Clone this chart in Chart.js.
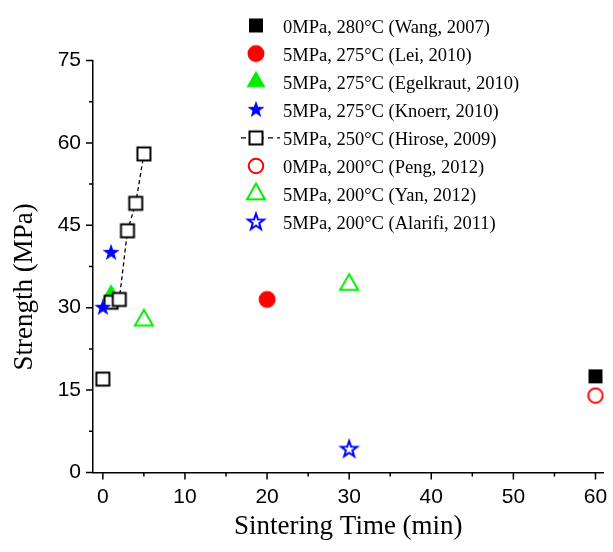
<!DOCTYPE html>
<html>
<head>
<meta charset="utf-8">
<script src="https://cdn.jsdelivr.net/npm/chart.js@4.4.1/dist/chart.umd.min.js"></script>
<style>
html, body { margin: 0; padding: 0; background: #fff; }
</style>
</head>
<body>
<canvas id="chart" width="613" height="552"></canvas>
<script>
// series
const seriesLabels = [
	'0MPa, 280°C (Wang, 2007)',
	'5MPa, 275°C (Lei, 2010)',
	'5MPa, 275°C (Egelkraut, 2010)',
	'5MPa, 275°C (Knoerr, 2010)',
	'5MPa, 250°C (Hirose, 2009)',
	'0MPa, 200°C (Peng, 2012)',
	'5MPa, 200°C (Yan, 2012)',
	'5MPa, 200°C (Alarifi, 2011)'
]
const wangTime = [60], wangStrength = [17.5]
const leiTime = [20], leiStrength = [31.5]
const egelTime = [1], egelStrength = [32.3]
const knoerrTime = [0, 1], knoerrStrength = [30, 40]
const hiroseTime = [0, 1, 2, 3, 4, 5], hiroseStrength = [17, 31, 31.5, 44, 49, 58]
const pengTime = [60], pengStrength = [14]
const yanTime = [5, 30], yanStrength = [27.7, 34.2]
const alarifiTime = [30], alarifiStrength = [4.2]

const xMajor = [0, 10, 20, 30, 40, 50, 60]
const xMinor = [5, 15, 25, 35, 45, 55]
const yMajor = [0, 15, 30, 45, 60, 75]
const yMinor = [7.5, 22.5, 37.5, 52.5, 67.5]

const RED = '#ff0000', GREEN = '#00ee00', BLUE = '#0000ff', BLACK = '#000000'

let pts = (xs, ys) => xs.map((x, i) => ({ x: x, y: ys[i] }))

// marker images, used for the plot and for the legend
let marker = (shape, filled, color, size) => {
	let c = document.createElement('canvas')
	c.width = 26
	c.height = 26
	let g = c.getContext('2d')
	g.translate(13, 13)
	g.beginPath()
	let s = size
	if (shape === 'square') {
		g.rect(-s / 2, -s / 2, s, s)
	} else if (shape === 'circle') {
		g.arc(0, 0, s / 2, 0, Math.PI * 2)
	} else if (shape === 'triangle') {
		let h = s * 0.866
		g.moveTo(0, -2 * h / 3)
		g.lineTo(s / 2, h / 3)
		g.lineTo(-s / 2, h / 3)
		g.closePath()
	} else if (shape === 'star') {
		let R = s / 2, r = R * 0.4
		for (let k = 0; k < 10; k++) {
			let a = -Math.PI / 2 + k * Math.PI / 5
			let rr = k % 2 === 0 ? R : r
			if (k === 0) g.moveTo(rr * Math.cos(a), rr * Math.sin(a))
			else g.lineTo(rr * Math.cos(a), rr * Math.sin(a))
		}
		g.closePath()
	}
	if (filled) {
		g.fillStyle = color
		g.fill()
	} else {
		g.fillStyle = '#ffffff'
		g.fill()
		g.lineWidth = 2
		g.lineJoin = 'miter'
		g.strokeStyle = color
		g.stroke()
	}
	return c
}

let scatterSet = (label, data, style, order) => ({
	label: label,
	data: data,
	pointStyle: style,
	pointRadius: 8,
	showLine: false,
	order: order
})

let hirose = scatterSet(seriesLabels[4], pts(hiroseTime, hiroseStrength), marker('square', false, BLACK, 13), 1)
hirose.showLine = true
hirose.borderColor = BLACK
hirose.borderWidth = 1.3
hirose.borderDash = [4, 3]
// the first point stands apart, no dashed link to it
hirose.segment = { borderColor: c => c.p0DataIndex === 0 ? 'rgba(0,0,0,0)' : undefined }

let datasets = [
	scatterSet(seriesLabels[0], pts(wangTime, wangStrength), marker('square', true, BLACK, 14), 3),
	scatterSet(seriesLabels[1], pts(leiTime, leiStrength), marker('circle', true, RED, 17), 3),
	scatterSet(seriesLabels[2], pts(egelTime, egelStrength), marker('triangle', true, GREEN, 19), 2),
	scatterSet(seriesLabels[3], pts(knoerrTime, knoerrStrength), marker('star', true, BLUE, 18), 0),
	hirose,
	scatterSet(seriesLabels[5], pts(pengTime, pengStrength), marker('circle', false, RED, 14.5), 3),
	scatterSet(seriesLabels[6], pts(yanTime, yanStrength), marker('triangle', false, GREEN, 18), 3),
	scatterSet(seriesLabels[7], pts(alarifiTime, alarifiStrength), marker('star', false, BLUE, 17), 3)
]

// ticks (major + minor), y title and legend
let decor = {
	id: 'decor',
	afterDraw: chart => {
		let ctx = chart.ctx
		let xs = chart.scales.x, ys = chart.scales.y
		ctx.save()
		ctx.strokeStyle = BLACK
		ctx.lineWidth = 1.5
		ctx.beginPath()
		xMajor.forEach(v => { let p = xs.getPixelForValue(v); ctx.moveTo(p, ys.bottom); ctx.lineTo(p, ys.bottom + 7) })
		xMinor.forEach(v => { let p = xs.getPixelForValue(v); ctx.moveTo(p, ys.bottom); ctx.lineTo(p, ys.bottom + 4) })
		yMajor.forEach(v => { let p = ys.getPixelForValue(v); ctx.moveTo(xs.left, p); ctx.lineTo(xs.left - 7, p) })
		yMinor.forEach(v => { let p = ys.getPixelForValue(v); ctx.moveTo(xs.left, p); ctx.lineTo(xs.left - 4, p) })
		ctx.stroke()

		ctx.save()
		ctx.translate(31.5, 287)
		ctx.rotate(-Math.PI / 2)
		ctx.fillStyle = BLACK
		ctx.font = '27px "Liberation Serif"'
		ctx.textAlign = 'center'
		ctx.textBaseline = 'alphabetic'
		ctx.fillText('Strength (MPa)', 0, 0)
		ctx.restore()

		let mx = 256, tx = 283
		ctx.font = '18.5px "Liberation Serif"'
		ctx.textAlign = 'left'
		ctx.textBaseline = 'alphabetic'
		ctx.fillStyle = BLACK
		chart.data.datasets.forEach((ds, i) => {
			let y = 25.5 + i * 28.1
			if (ds.showLine) {
				ctx.setLineDash([5, 4])
				ctx.lineWidth = ds.borderWidth
				ctx.beginPath()
				ctx.moveTo(mx - 15, y)
				ctx.lineTo(mx + 24, y)
				ctx.stroke()
				ctx.setLineDash([])
			}
			let img = ds.pointStyle
			ctx.drawImage(img, mx - img.width / 2, y - img.height / 2)
			ctx.fillText(ds.label, tx, y + 7)
		})
		ctx.restore()
	}
}

new Chart(document.getElementById('chart'), {
	type: 'scatter',
	data: { datasets: datasets },
	plugins: [decor],
	options: {
		responsive: false,
		animation: false,
		devicePixelRatio: 1,
		layout: { padding: { top: 60.5, right: 6, left: 0, bottom: 0 } },
		plugins: {
			legend: { display: false },
			tooltip: { enabled: false }
		},
		scales: {
			x: {
				type: 'linear',
				min: -1.2,
				max: 61,
				afterBuildTicks: s => { s.ticks = xMajor.map(v => ({ value: v })) },
				afterFit: s => { s.height = 79.5 },
				ticks: {
					font: { family: '"Liberation Sans"', size: 21 },
					color: BLACK,
					padding: 5,
					maxRotation: 0,
					autoSkip: false
				},
				grid: { display: true, drawOnChartArea: false, drawTicks: true, tickLength: 7, color: 'rgba(0,0,0,0)' },
				border: { display: true, color: BLACK, width: 1.5 },
				title: {
					display: true,
					text: 'Sintering Time (min)',
					color: BLACK,
					font: { family: '"Liberation Serif"', size: 27 },
					padding: { top: 0, bottom: 9 }
				}
			},
			y: {
				type: 'linear',
				min: 0,
				max: 75,
				afterBuildTicks: s => { s.ticks = yMajor.map(v => ({ value: v })) },
				afterFit: s => { s.width = 93 },
				ticks: {
					font: { family: '"Liberation Sans"', size: 21 },
					color: BLACK,
					padding: 5,
					autoSkip: false
				},
				grid: { display: true, drawOnChartArea: false, drawTicks: true, tickLength: 7, color: 'rgba(0,0,0,0)' },
				border: { display: true, color: BLACK, width: 1.5 }
			}
		}
	}
})
</script>
</body>
</html>
